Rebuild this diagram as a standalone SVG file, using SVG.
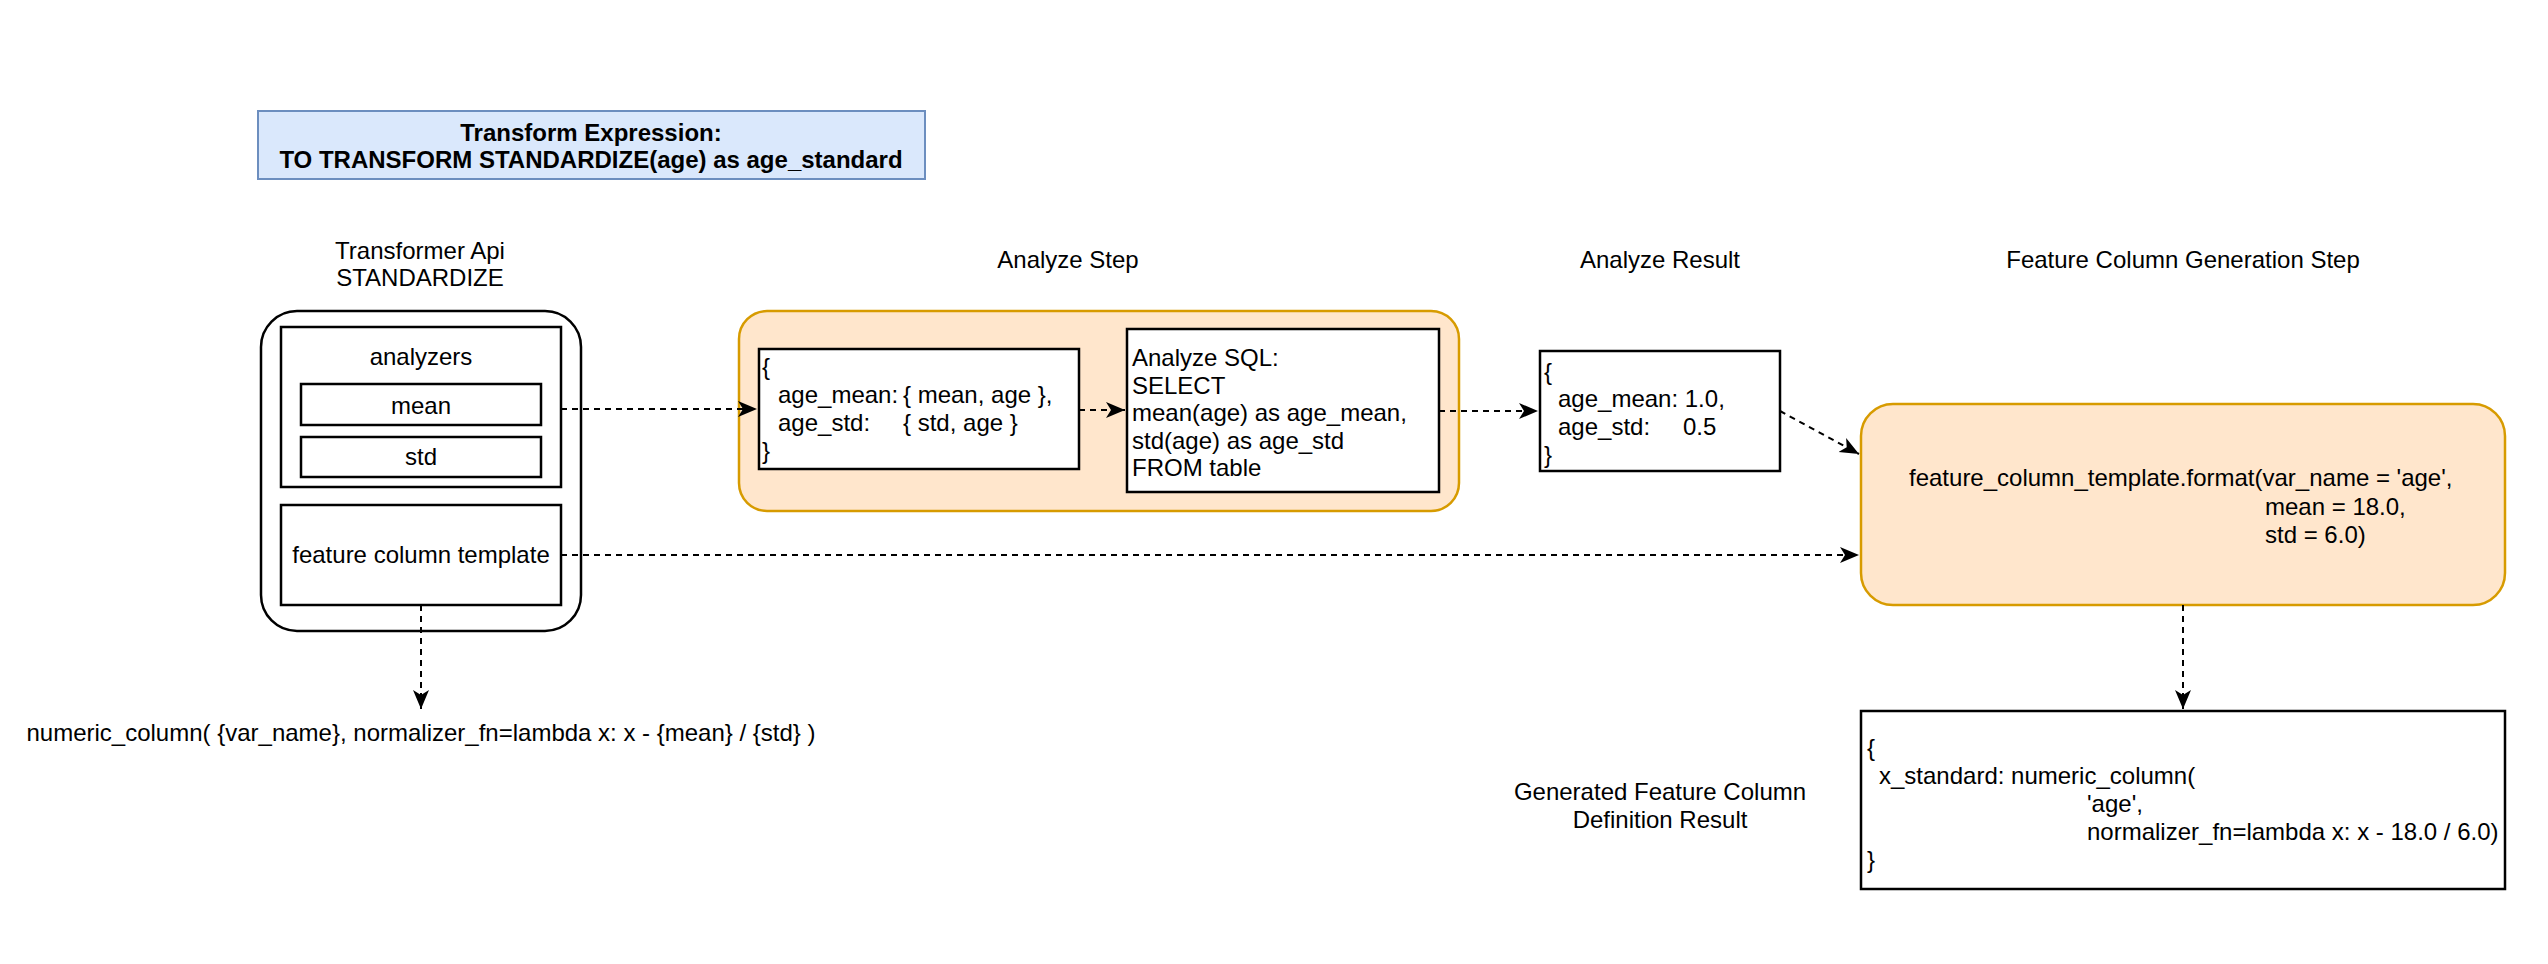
<svg xmlns="http://www.w3.org/2000/svg" width="2548" height="964" viewBox="0 0 2548 964">
<defs>
<style>
text{font-family:"Liberation Sans",Arial,Helvetica,sans-serif;font-size:24px;fill:#000}
.c{text-anchor:middle}
.b{font-weight:bold}
.box{fill:#fff;stroke:#000;stroke-width:2.5}
.org{fill:#ffe6cc;stroke:#d79b00;stroke-width:2.5}
.edge{fill:none;stroke:#000;stroke-width:2;stroke-dasharray:6 5}
</style>
<marker id="arr" viewBox="0 0 20 20" refX="19" refY="10" markerWidth="20" markerHeight="20" markerUnits="userSpaceOnUse" orient="auto">
<path d="M0,2 L19,10 L0,18 L5,10 Z" fill="#000"/>
</marker>
</defs>
<rect width="2548" height="964" fill="#fff"/>

<g id="title">
<rect x="258" y="111" width="667" height="68" fill="#dae8fc" stroke="#6c8ebf" stroke-width="2"/>
<text class="c b" x="591" y="141">Transform Expression:</text>
<text class="c b" x="591" y="168">TO TRANSFORM STANDARDIZE(age) as age_standard</text>
</g>

<g id="transformer-label">
<text class="c" x="420" y="259">Transformer Api</text>
<text class="c" x="420" y="286">STANDARDIZE</text>
</g>

<g id="transformer">
<rect class="box" x="261" y="311" width="320" height="320" rx="36" ry="36"/>
</g>
<g id="analyzers">
<rect class="box" x="281" y="327" width="280" height="160"/>
<text class="c" x="421" y="365">analyzers</text>
</g>
<g id="mean">
<rect class="box" x="301" y="384" width="240" height="41"/>
<text class="c" x="421" y="414">mean</text>
</g>
<g id="std">
<rect class="box" x="301" y="437" width="240" height="40"/>
<text class="c" x="421" y="465">std</text>
</g>
<g id="template">
<rect class="box" x="281" y="505" width="280" height="100"/>
<text class="c" x="421" y="563">feature column template</text>
</g>

<g id="numeric-template">
<text class="c" x="421" y="741">numeric_column( {var_name}, normalizer_fn=lambda x: x - {mean} / {std} )</text>
</g>

<g id="analyze-step-label">
<text class="c" x="1068" y="268">Analyze Step</text>
</g>
<g id="analyze-step">
<rect class="org" x="739" y="311" width="720" height="200" rx="28" ry="28"/>
</g>
<g id="analyzer-map">
<rect class="box" x="759" y="349" width="320" height="120"/>
<text x="762" y="375">{</text>
<text x="778" y="403">age_mean:</text><text x="903" y="403">{ mean, age },</text>
<text x="778" y="431">age_std:</text><text x="903" y="431">{ std, age }</text>
<text x="762" y="459">}</text>
</g>
<g id="analyze-sql">
<rect class="box" x="1127" y="329" width="312" height="163"/>
<text x="1132" y="366">Analyze SQL:</text>
<text x="1132" y="394">SELECT</text>
<text x="1132" y="421">mean(age) as age_mean,</text>
<text x="1132" y="449">std(age) as age_std</text>
<text x="1132" y="476">FROM table</text>
</g>

<g id="analyze-result-label">
<text class="c" x="1660" y="268">Analyze Result</text>
</g>
<g id="analyze-result">
<rect class="box" x="1540" y="351" width="240" height="120"/>
<text x="1544" y="380">{</text>
<text x="1558" y="407">age_mean: 1.0,</text>
<text x="1558" y="435">age_std:</text><text x="1683" y="435">0.5</text>
<text x="1544" y="463">}</text>
</g>

<g id="fc-gen-label">
<text class="c" x="2183" y="268">Feature Column Generation Step</text>
</g>
<g id="fc-gen">
<rect class="org" x="1861" y="404" width="644" height="201" rx="32" ry="32"/>
<text x="1909" y="486">feature_column_template.format(var_name = 'age',</text>
<text x="2265" y="515">mean = 18.0,</text>
<text x="2265" y="543">std = 6.0)</text>
</g>

<g id="result-label">
<text class="c" x="1660" y="800">Generated Feature Column</text>
<text class="c" x="1660" y="828">Definition Result</text>
</g>
<g id="fc-result">
<rect class="box" x="1861" y="711" width="644" height="178"/>
<text x="1867" y="756">{</text>
<text x="1879" y="784">x_standard: numeric_column(</text>
<text x="2087" y="812">'age',</text>
<text x="2087" y="840">normalizer_fn=lambda x: x - 18.0 / 6.0)</text>
<text x="1867" y="868">}</text>
</g>

<g id="connectors">
<path class="edge" d="M561,409 L757,409" marker-end="url(#arr)"/>
<path class="edge" d="M1079,410 L1125,410" marker-end="url(#arr)"/>
<path class="edge" d="M1439,411 L1538,411" marker-end="url(#arr)"/>
<path class="edge" d="M1780,411 L1859,454" marker-end="url(#arr)"/>
<path class="edge" d="M561,555 L1859,555" marker-end="url(#arr)"/>
<path class="edge" d="M421,605 L421,709" marker-end="url(#arr)"/>
<path class="edge" d="M2183,605 L2183,709" marker-end="url(#arr)"/>
</g>
</svg>
